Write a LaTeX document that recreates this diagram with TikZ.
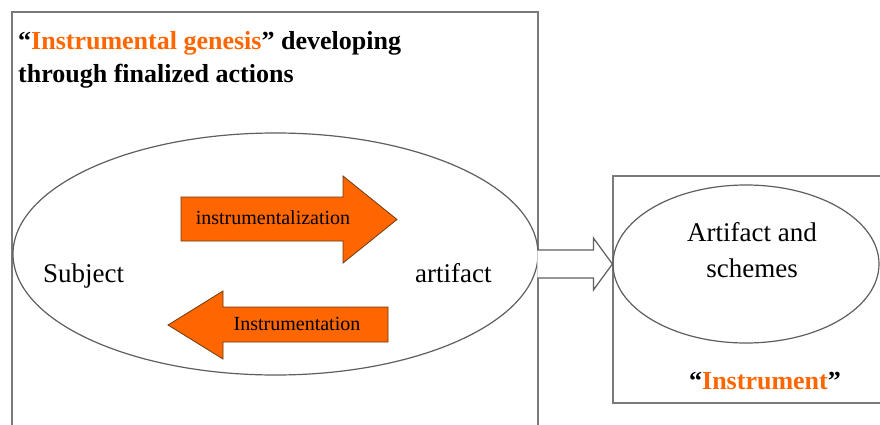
\documentclass[tikz,border=0pt]{standalone}
\usepackage{fontspec}
\setmainfont{Liberation Serif}
\usetikzlibrary{shapes.geometric,calc}
\definecolor{flame}{HTML}{FF6600}
\definecolor{framegray}{HTML}{7A7A7A}
\definecolor{rimgray}{HTML}{5E5E5E}
\definecolor{arrowrim}{HTML}{6B3A10}
\begin{document}
\begin{tikzpicture}[x=1pt,y=-1pt,
  frame/.style={draw=framegray,line width=1.4pt},
  oval/.style={ellipse,draw=rimgray,line width=1.2pt,inner sep=0pt},
  flow/.style={fill=flame,draw=arrowrim,line width=0.8pt,line join=miter},
  hollow/.style={fill=white,draw=rimgray,line width=1.2pt,line join=miter},
  label/.style={font=\fontsize{27}{32}\selectfont,inner sep=0pt,anchor=base},
  heading/.style={font=\bfseries\fontsize{26}{32}\selectfont,inner sep=0pt,anchor=base west},
  small/.style={font=\fontsize{20}{24}\selectfont,inner sep=0pt,text=black}]
\useasboundingbox (0,0) rectangle (880,425);
\fill[white] (0,0) rectangle (880,425);

% left frame, open at the bottom
\draw[frame] (12,425) -- (12,12) -- (538,12) -- (538,425);
\node[heading] (title1) at (18,50) {“\textcolor{flame}{Instrumental genesis}” developing};
\node[heading] (title2) at (18,83) {through finalized actions};

% subject / artifact field
\node[oval, minimum width=525pt, minimum height=242pt] (field) at (275.5,254) {};
\node[label, anchor=base west] (subj) at (43,282) {Subject};
\node[label, anchor=base west] (arti) at (415,282) {artifact};

% instrumentalization arrow (pointing right)
\draw[flow] (181,197) -- (343,197) -- (343,176) -- (397,219.5) -- (343,263)
  -- (343,241) -- (181,241) -- cycle;
\node[small] (instz) at (273,218) {instrumentalization};

% instrumentation arrow (pointing left)
\draw[flow] (168,325) -- (223,291) -- (223,307) -- (388,307) -- (388,342)
  -- (223,342) -- (223,359) -- cycle;
\node[small] (instn) at (297,324) {Instrumentation};

% right frame, open on the right
\draw[frame] (880,176) -- (613,176) -- (613,403) -- (880,403);
\node[oval, minimum width=266pt, minimum height=158pt] (instr) at (746,264) {};
\node[label] (art1) at (752,241) {Artifact and};
\node[label] (art2) at (752,277) {schemes};
\node[label, font=\bfseries\fontsize{26}{32}\selectfont] (instrname) at (765,389)
  {“\textcolor{flame}{Instrument}”};

% hollow arrow from the field to the instrument
\coordinate (tip) at (instr.west);
\draw[hollow] ($(tip)+(-75,-14)$) -- ($(tip)+(-19,-14)$) -- ($(tip)+(-19,-26)$)
  -- (tip) -- ($(tip)+(-19,26)$) -- ($(tip)+(-19,14)$) -- ($(tip)+(-75,14)$);
\end{tikzpicture}
\end{document}
